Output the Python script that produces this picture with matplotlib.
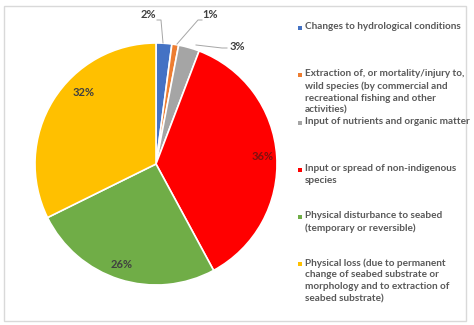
import numpy as np
import matplotlib.pyplot as plt
from matplotlib.patches import Rectangle

plt.rcParams["font.family"] = ["Lato", "DejaVu Sans"]

categories = [
    "Changes to hydrological conditions",
    "Extraction of, or mortality/injury to,\nwild species (by commercial and\nrecreational fishing and other\nactivities)",
    "Input of nutrients and organic matter",
    "Input or spread of non-indigenous\nspecies",
    "Physical disturbance to seabed\n(temporary or reversible)",
    "Physical loss (due to permanent\nchange of seabed substrate or\nmorphology and to extraction of\nseabed substrate)",
]
shares = [2.1, 0.9, 2.8, 36.3, 25.6, 32.3]
labels = ["2%", "1%", "3%", "36%", "26%", "32%"]
colors = ["#4472C4", "#ED7D31", "#A5A5A5", "#FF0000", "#70AD47", "#FFC000"]

W, H = 474, 325
fig = plt.figure(figsize=(W / 100, H / 100), dpi=100)
fig.patch.set_facecolor("white")

# outer chart border
fig.add_artist(Rectangle((4 / W, 1 - 321 / H), 462 / W, 315 / H,
                         transform=fig.transFigure, fill=False,
                         edgecolor="#d9d9d9", linewidth=1))

cx, cy, r = 156, 164, 121
ax = fig.add_axes([(cx - r) / W, 1 - (cy + r) / H, 2 * r / W, 2 * r / H])
ax.pie(shares, colors=colors, startangle=90, counterclock=False, radius=1,
       wedgeprops=dict(edgecolor="white", linewidth=1.2))
ax.set_xlim(-1, 1)
ax.set_ylim(-1, 1)
ax.set_aspect("auto")
ax.axis("off")

txt = "#404040"
fs = 8


def px(x, y):
    # pixel -> axes data coords
    return ((x - cx) / r, (cy - y) / r)


# labels with leader lines for the small slices
ax.text(*px(148, 14), labels[0], ha="center", va="center", fontsize=fs, color=txt, fontweight="bold")
ax.plot(*zip(px(157, 20), px(161, 20), px(163, 43)), color="#a6a6a6", lw=0.7, clip_on=False)
ax.text(*px(210, 15), labels[1], ha="center", va="center", fontsize=fs, color=txt, fontweight="bold")
ax.plot(*zip(px(202, 20), px(198, 20), px(177, 44)), color="#a6a6a6", lw=0.7, clip_on=False)
ax.text(*px(237, 47), labels[2], ha="center", va="center", fontsize=fs, color=txt, fontweight="bold")
ax.plot(*zip(px(227, 48), px(222, 48), px(196, 45)), color="#a6a6a6", lw=0.7, clip_on=False)
ax.text(*px(263, 157), labels[3], ha="center", va="center", fontsize=fs, color="#7f1010", fontweight="bold")
ax.text(*px(122, 265), labels[4], ha="center", va="center", fontsize=fs, color=txt, fontweight="bold")
ax.text(*px(84, 93), labels[5], ha="center", va="center", fontsize=fs, color=txt, fontweight="bold")

# legend drawn by hand to follow the original spacing
leg_top = [28, 75, 123, 170, 217, 264]
for cat, col, y in zip(categories, colors, leg_top):
    fig.add_artist(Rectangle((298 / W, 1 - (y + 2) / H), 4 / W, 4 / H,
                             transform=fig.transFigure, color=col, lw=0))
    fig.text(305 / W, 1 - (y - 6) / H, cat, ha="left", va="top",
             fontsize=7.2, color="#595959", fontweight="bold", linespacing=1.42)

fig.savefig("out.png", dpi=100)
